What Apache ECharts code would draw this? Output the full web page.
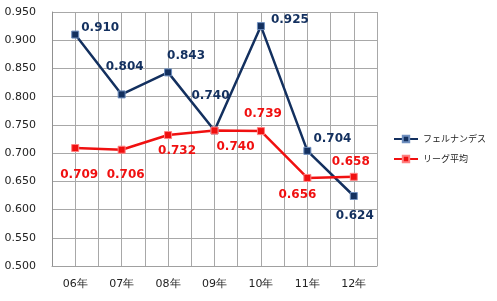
<!DOCTYPE html>
<html><head><meta charset="utf-8">
<script src="https://cdn.jsdelivr.net/npm/echarts@6/dist/echarts.min.js"></script>
<style>html,body{margin:0;padding:0;background:#fff}#c{width:497px;height:301px}</style>
</head><body><div id="c"></div>
<script>
const categories = ['06年','07年','08年','09年','10年','11年','12年'];
const fernandez = [0.910,0.804,0.843,0.740,0.925,0.704,0.624];
const league = [0.709,0.706,0.732,0.740,0.739,0.656,0.658];
const seriesNames = ['フェルナンデス','リーグ平均'];
const fOffsets = [[25,-7],[3,-28],[18,-17],[-4,-35],[29,-6],[25,-12],[1,20]];
const lOffsets = [[4,27],[4,25],[9,16],[21,16],[2,-17],[-10,17],[-3,-15]];
const blue = '#13305F', red = '#F01010';
function mk(vals, offs){
  return vals.map((v,i)=>({value:v, label:{offset:offs[i]}}));
}
const chart = echarts.init(document.getElementById('c'));
const font = 'DejaVu Sans';
chart.setOption({
  animation:false,
  textStyle:{fontFamily:font},
  grid:{left:52,top:12,width:325,height:254},
  xAxis:[{type:'category',data:categories,boundaryGap:true,
    axisLine:{lineStyle:{color:'#A0A0A0'}},axisTick:{show:false},
    axisLabel:{color:'#222',fontSize:11,fontFamily:font,margin:13},
    splitLine:{show:true,lineStyle:{color:'#A8A8A8'}}},
    {type:'value',min:0,max:14,interval:1,show:true,position:'bottom',
    axisLine:{show:false},axisTick:{show:false},axisLabel:{show:false},
    splitLine:{show:true,lineStyle:{color:'#A8A8A8'}}}],
  yAxis:{type:'value',min:0.5,max:0.95,interval:0.05,
    axisLine:{show:true,lineStyle:{color:'#909090'}},axisTick:{show:false},
    axisLabel:{color:'#222',fontSize:11,fontFamily:font,margin:16,formatter:v=>v.toFixed(3)},
    splitLine:{lineStyle:{color:'#A8A8A8'}}},
  legend:{orient:'vertical',left:393,top:133,itemGap:8,itemWidth:24,itemHeight:8,padding:0,
    textStyle:{fontSize:9,color:'#222',fontFamily:'Noto Sans CJK JP',lineHeight:12},
    data:seriesNames},
  series:[
    {name:seriesNames[0],type:'line',data:mk(fernandez,fOffsets),symbol:'rect',symbolSize:7,
     lineStyle:{color:blue,width:2.5},itemStyle:{color:blue,borderColor:'#6f8fbf',borderWidth:1},
     label:{show:true,position:'inside',formatter:p=>p.value.toFixed(3),color:blue,fontWeight:'bold',fontSize:12,fontFamily:font}},
    {name:seriesNames[1],type:'line',data:mk(league,lOffsets),symbol:'rect',symbolSize:7,
     lineStyle:{color:red,width:2.5},itemStyle:{color:red,borderColor:'#ff8080',borderWidth:1},
     label:{show:true,position:'inside',formatter:p=>p.value.toFixed(3),color:red,fontWeight:'bold',fontSize:12,fontFamily:font}}
  ]
});
</script></body></html>
